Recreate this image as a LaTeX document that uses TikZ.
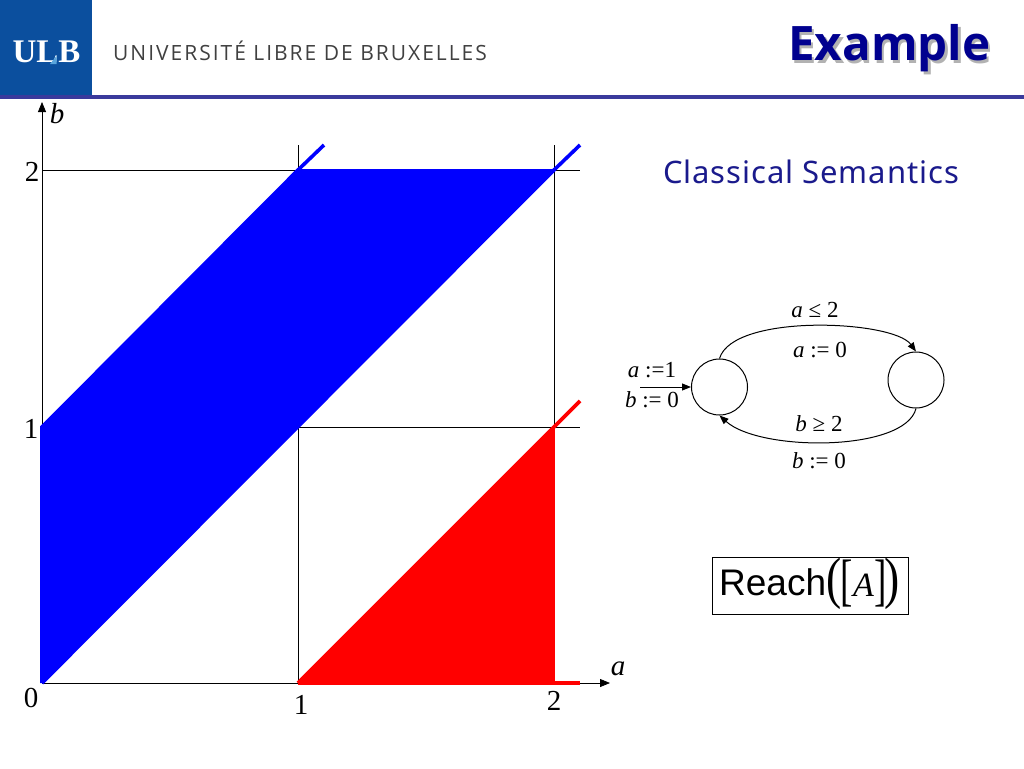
\documentclass[tikz,border=0pt]{standalone}
\usepackage{fontspec}
\setmainfont{Liberation Serif}
\newfontfamily\tah{Noto Sans}[LetterSpace=3]
\newfontfamily\tahbold{Open Sans}
\newfontfamily\ari{Liberation Sans}
\newfontfamily\uni{Open Sans}[LetterSpace=9.5]
\usetikzlibrary{arrows.meta}
\definecolor{ulbblue}{HTML}{0B4F9E}
\definecolor{ulblight}{HTML}{5AA5DC}
\definecolor{rulec}{HTML}{3A3A9C}
\definecolor{titleb}{HTML}{00008F}
\definecolor{semb}{HTML}{1A1A8C}
\tikzset{
  fine/.style={draw=black,line width=0.7pt},
  axis/.style={draw=black,line width=0.8pt,-{Triangle[length=10pt,width=8pt]}},
  edgeblue/.style={draw=blue,line width=3.6pt},
  edgered/.style={draw=red,line width=3.6pt},
  tick/.style={font=\fontsize{29}{29}\selectfont,inner sep=0pt},
  ticki/.style={font=\fontsize{29}{29}\selectfont\itshape,inner sep=0pt},
  autolab/.style={font=\fontsize{23}{23}\selectfont,inner sep=0pt},
  state/.style={circle,draw=black,line width=1pt,minimum size=56pt,inner sep=0pt},
  trans/.style={draw=black,line width=1pt,-{Triangle[length=9pt,width=7pt]}},
  brack/.style={anchor=center,inner sep=0pt,font=\fontsize{57}{57}\selectfont,xscale=0.65},
  paren/.style={anchor=center,inner sep=0pt,font=\fontsize{57}{57}\selectfont,xscale=0.8}
}
\begin{document}
\begin{tikzpicture}[x=1pt,y=-1pt]
\useasboundingbox (0,0) rectangle (1024,768);
% header
\fill[ulbblue] (0,0) rectangle (92,95);
\fill[rulec] (0,95) rectangle (1024,99);
\node[text=white,inner sep=0pt,font=\fontsize{33}{33}\selectfont\bfseries] (ulb) at (46.5,52) {ULB};
\fill[ulblight] (50,64) -- (56.5,56) -- (56.5,64) -- cycle;
\node[anchor=west,inner sep=0pt,text=black!75,font=\fontsize{21}{21}\uni] (univ) at (113,51) {UNIVERSITÉ LIBRE DE BRUXELLES};
\node[anchor=east,inner sep=0pt,text=black!30,font=\fontsize{47.5}{47.5}\tahbold\bfseries] (titleshadow) at (993,51) {Example};
\node[anchor=east,inner sep=0pt,text=titleb,font=\fontsize{47.5}{47.5}\tahbold\bfseries] (title) at (990.5,48.5) {Example};
% chart
\coordinate (O) at (42,683);
\coordinate (Xe) at (610,683);
\coordinate (Ye) at (42,102);
\coordinate (A1) at (298,683);
\coordinate (A2) at (554,683);
\coordinate (B1) at (42,427);
\coordinate (B2) at (42,170);
\coordinate (P11) at (298,427);
\coordinate (P21) at (554,427);
\coordinate (P12) at (298,170);
\coordinate (P22) at (554,170);
\coordinate (A1t) at (298,145);
\coordinate (A2t) at (554,145);
\coordinate (B1r) at (580,427);
\coordinate (B2r) at (580,170);
\draw[fine] (A1t) -- (A1);
\draw[fine] (A2t) -- (A2);
\draw[fine] (B2) -- (B2r);
\draw[fine] (B1) -- (B1r);
\draw[axis] (O) -- (Ye);
\draw[axis] (O) -- (Xe);
\fill[blue] (O) -- (B1) -- (P12) -- (P22) -- cycle;
\fill[red] (A1) -- (P21) -- (A2) -- cycle;
\coordinate (Be1) at (324,145);
\coordinate (Be2) at (580,145);
\coordinate (Re1) at (580,401);
\coordinate (Re2) at (580,683);
\draw[edgeblue] (O) -- (B1) -- (P12) -- (Be1);
\draw[edgeblue] (O) -- (P22) -- (Be2);
\draw[edgeblue,line width=2pt] (P12) -- (P22);
\draw[edgered] (A1) -- (Re1);
\draw[edgered] (A1) -- (Re2);
\draw[red,line width=2pt] (A2) -- (P21);
\node[ticki] (lb) at (57,114) {b};
\node[ticki] (la) at (618,669) {a};
\node[tick] (l2y) at (32,172) {2};
\node[tick] (l1y) at (31,429) {1};
\node[tick] (l0) at (31,698) {0};
\node[tick] (l1x) at (301,705) {1};
\node[tick] (l2x) at (554,701) {2};
% right side
\node[inner sep=0pt,text=semb,font=\fontsize{31}{31}\tah] (sem) at (811,172) {Classical Semantics};
\node[state] (s0) at (719.5,387) {};
\node[state] (s1) at (916,380) {};
\coordinate (init) at (640,387);
\draw[trans] (init) -- (s0.west);
\draw[trans] (s0.north) .. controls (733,313) and (893,320) .. (s1.north);
\draw[trans] (s1.south) .. controls (905,452) and (760,452) .. (s0.south);
\node[autolab] (g1) at (815,310) {\textit{a} ≤ 2};
\node[autolab] (r1) at (820,350) {\textit{a} := 0};
\node[autolab] (g2) at (819,424) {\textit{b} ≥ 2};
\node[autolab] (r2) at (819,461) {\textit{b} := 0};
\node[autolab] (i1) at (652,370) {\textit{a} :=1};
\node[autolab] (i2) at (652,400) {\textit{b} := 0};
\node[draw=black,line width=0.7pt,minimum width=196pt,minimum height=57pt,inner sep=0pt] (reach) at (810,586) {};
\node[anchor=west,inner sep=0pt,font=\fontsize{37}{37}\ari] (reachw) at (719,582.5) {Reach};
\node[paren] (reachl) at (834,583.5) {(};
\node[brack] (reachb) at (847,583.5) {[};
\node[anchor=center,inner sep=0pt,font=\fontsize{34}{34}\selectfont\itshape] (reacha) at (863.5,585) {A};
\node[brack] (reachc) at (881,583.5) {]};
\node[paren] (reachr) at (892,583.5) {)};
\end{tikzpicture}
\end{document}
